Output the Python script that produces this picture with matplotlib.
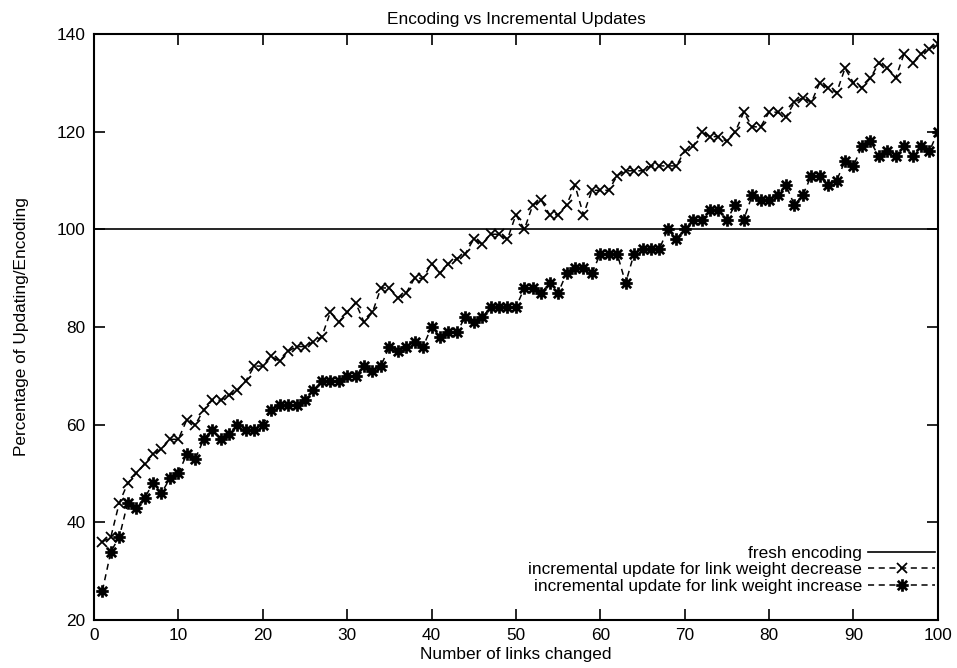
import matplotlib
matplotlib.use("Agg")
import matplotlib.pyplot as plt
from matplotlib.path import Path

plt.rcParams['font.family'] = ['Liberation Sans', 'DejaVu Sans']

# number of links changed
links = list(range(1, 101))

# percentage of updating / encoding
decrease = [36, 37, 44, 48, 50, 52, 54, 55, 57, 57,
            61, 60, 63, 65, 65, 66, 67, 69, 72, 72,
            74, 73, 75, 76, 76, 77, 78, 83, 81, 83,
            85, 81, 83, 88, 88, 86, 87, 90, 90, 93,
            91, 93, 94, 95, 98, 97, 99, 99, 98, 103,
            100, 105, 106, 103, 103, 105, 109, 103, 108, 108,
            108, 111, 112, 112, 112, 113, 113, 113, 113, 116,
            117, 120, 119, 119, 118, 120, 124, 121, 121, 124,
            124, 123, 126, 127, 126, 130, 129, 128, 133, 130,
            129, 131, 134, 133, 131, 136, 134, 136, 137, 138]

increase = [26, 34, 37, 44, 43, 45, 48, 46, 49, 50,
            54, 53, 57, 59, 57, 58, 60, 59, 59, 60,
            63, 64, 64, 64, 65, 67, 69, 69, 69, 70,
            70, 72, 71, 72, 76, 75, 76, 77, 76, 80,
            78, 79, 79, 82, 81, 82, 84, 84, 84, 84,
            88, 88, 87, 89, 87, 91, 92, 92, 91, 95,
            95, 95, 89, 95, 96, 96, 96, 100, 98, 100,
            102, 102, 104, 104, 102, 105, 102, 107, 106, 106,
            107, 109, 105, 107, 111, 111, 109, 110, 114, 113,
            117, 118, 115, 116, 115, 117, 115, 117, 116, 120]

fresh = 100

# gnuplot style star: plus and cross on top of each other
star = Path([(-1, 0), (1, 0), (0, -1), (0, 1),
             (-0.75, -0.75), (0.75, 0.75), (-0.75, 0.75), (0.75, -0.75)],
            [Path.MOVETO, Path.LINETO] * 4)

fs = 12.4

fig = plt.figure(figsize=(9.57, 6.68), dpi=100)
ax = fig.add_axes([0.0982, 0.0719, 0.8818, 0.8771])

ax.axhline(fresh, color='black', linewidth=1.2, label='fresh encoding')
ax.plot(links, decrease, color='black', linestyle=(0, (4, 3)), linewidth=1.1,
        marker='x', markersize=7.5, markeredgewidth=1.3,
        label='incremental update for link weight decrease')
ax.plot(links, increase, color='black', linestyle=(0, (4, 3)), linewidth=1.1,
        marker=star, markersize=9, markeredgewidth=2.0,
        label='incremental update for link weight increase')

ax.set_xlim(0, 100)
ax.set_ylim(20, 140)
ax.set_xticks(range(0, 101, 10))
ax.set_yticks(range(20, 141, 20))
ax.tick_params(direction='in', length=8, width=1.2, top=True, right=True,
               labelsize=fs, pad=6)
for s in ax.spines.values():
    s.set_linewidth(1.5)

ax.set_title('Encoding vs Incremental Updates', fontsize=fs, pad=7)
ax.set_xlabel('Number of links changed', fontsize=fs, labelpad=3)
ax.set_ylabel('Percentage of Updating/Encoding', fontsize=fs, labelpad=20)

ax.legend(loc='lower right', bbox_to_anchor=(1.005, 0.033), frameon=False,
          markerfirst=False, numpoints=1, handlelength=3.9, handletextpad=0.35,
          labelspacing=0.08, fontsize=fs, borderaxespad=0.0)

fig.savefig('out.png', dpi=100)
